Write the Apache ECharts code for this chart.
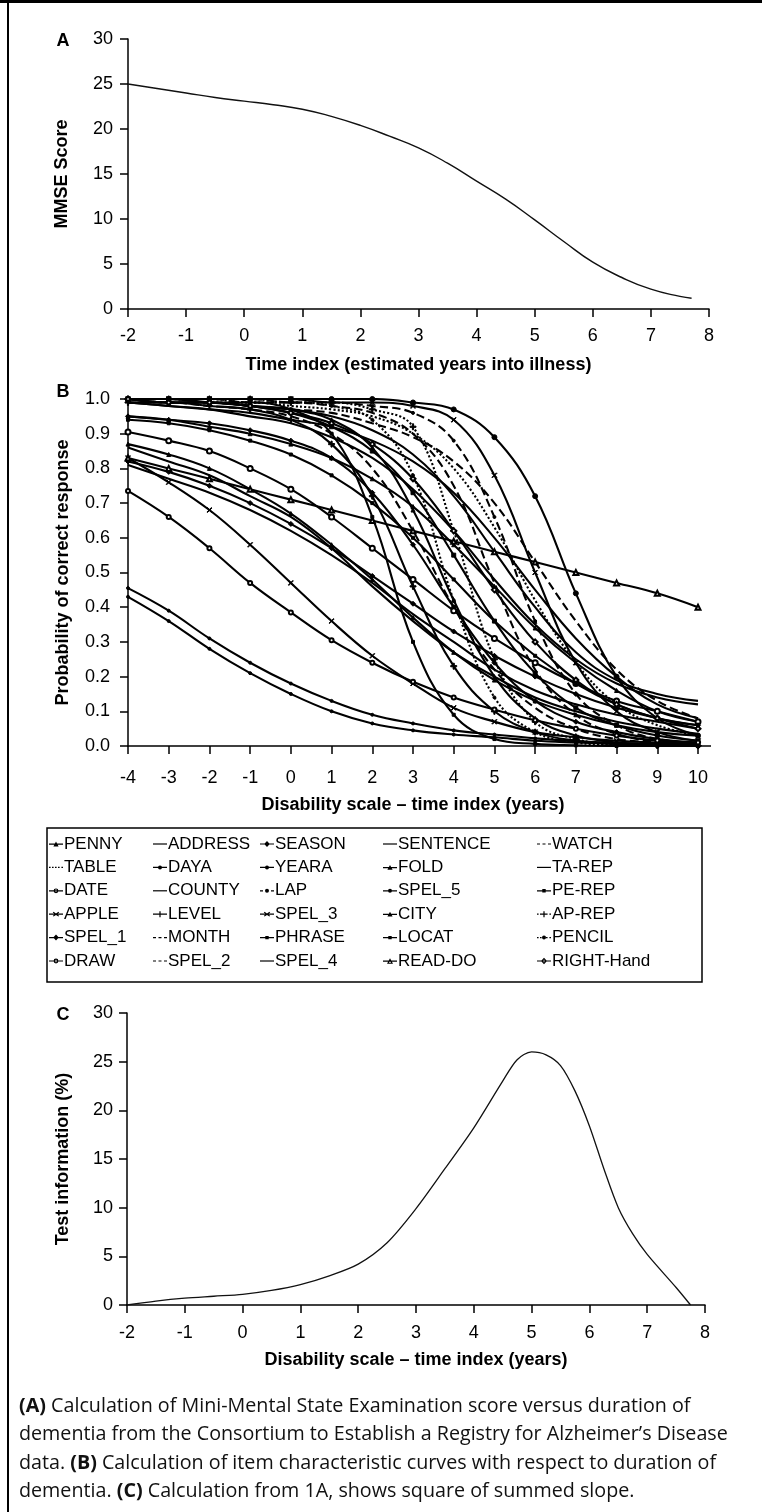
<!DOCTYPE html>
<html>
<head>
<meta charset="utf-8">
<script src="https://cdn.jsdelivr.net/npm/echarts@6.0.0/dist/echarts.min.js"></script>
<style>
  html, body { margin: 0; padding: 0; background: #fff; }
  #chart { width: 762px; height: 1512px; }
</style>
</head>
<body>
<div id="chart"></div>
<script>
// ---- panel A: MMSE score ----
const timeA = [-2, -1.5, -1, -0.5, 0, 0.5, 1, 1.5, 2, 2.5, 3, 3.5, 4, 4.5, 5, 5.5, 6, 6.5, 7, 7.5, 7.7]
const mmse = [25.0, 24.5, 24.0, 23.5, 23.1, 22.7, 22.2, 21.4, 20.4, 19.2, 17.9, 16.2, 14.2, 12.2, 9.9, 7.5, 5.2, 3.5, 2.2, 1.4, 1.2]

// ---- panel B: item characteristic curves (value at each year) ----
const yearsB = [-4, -3, -2, -1, 0, 1, 2, 3, 4, 5, 6, 7, 8, 9, 10]
const penny = [1.0, 0.99, 0.99, 0.98, 0.97, 0.94, 0.86, 0.68, 0.42, 0.2, 0.08, 0.03, 0.01, 0.004, 0.002]
const address = [1.0, 0.99, 0.99, 0.98, 0.97, 0.95, 0.91, 0.84, 0.72, 0.56, 0.4, 0.27, 0.19, 0.15, 0.13]
const season = [0.95, 0.94, 0.93, 0.91, 0.88, 0.83, 0.73, 0.58, 0.4, 0.24, 0.13, 0.07, 0.04, 0.02, 0.01]
const sentence = [0.99, 0.98, 0.97, 0.95, 0.93, 0.89, 0.83, 0.74, 0.62, 0.48, 0.35, 0.25, 0.18, 0.14, 0.12]
const watch = [1.0, 1.0, 1.0, 0.99, 0.99, 0.98, 0.96, 0.9, 0.75, 0.47, 0.22, 0.09, 0.035, 0.012, 0.005]
const table = [1.0, 1.0, 0.99, 0.99, 0.98, 0.97, 0.95, 0.9, 0.8, 0.63, 0.42, 0.24, 0.12, 0.06, 0.03]
const daya = [0.43, 0.36, 0.28, 0.21, 0.15, 0.1, 0.065, 0.045, 0.033, 0.025, 0.015, 0.01, 0.006, 0.003, 0.002]
const yeara = [1.0, 1.0, 1.0, 1.0, 1.0, 1.0, 1.0, 0.99, 0.97, 0.89, 0.72, 0.44, 0.2, 0.08, 0.03]
const fold = [0.95, 0.94, 0.92, 0.9, 0.87, 0.83, 0.77, 0.69, 0.58, 0.46, 0.34, 0.24, 0.16, 0.1, 0.07]
const taRep = [0.99, 0.98, 0.97, 0.96, 0.94, 0.92, 0.88, 0.82, 0.73, 0.6, 0.45, 0.31, 0.2, 0.12, 0.08]
const date = [0.905, 0.88, 0.85, 0.8, 0.74, 0.66, 0.57, 0.48, 0.39, 0.31, 0.24, 0.18, 0.13, 0.1, 0.07]
const county = [0.86, 0.82, 0.78, 0.72, 0.66, 0.57, 0.46, 0.36, 0.27, 0.2, 0.14, 0.1, 0.07, 0.05, 0.035]
const lap = [1.0, 1.0, 1.0, 1.0, 0.99, 0.99, 0.98, 0.96, 0.88, 0.66, 0.36, 0.15, 0.06, 0.02, 0.01]
const spel5 = [0.455, 0.39, 0.31, 0.24, 0.18, 0.13, 0.09, 0.065, 0.045, 0.033, 0.022, 0.014, 0.009, 0.006, 0.004]
const peRep = [1.0, 1.0, 0.99, 0.99, 0.97, 0.9, 0.66, 0.3, 0.09, 0.02, 0.006, 0.002, 0.0, 0.0, 0.0]
const apple = [0.83, 0.76, 0.68, 0.58, 0.47, 0.36, 0.26, 0.18, 0.11, 0.07, 0.04, 0.025, 0.015, 0.01, 0.006]
const level = [0.99, 0.99, 0.98, 0.97, 0.94, 0.87, 0.72, 0.46, 0.23, 0.1, 0.04, 0.015, 0.006, 0.002, 0.001]
const spel3 = [1.0, 1.0, 1.0, 1.0, 1.0, 0.99, 0.99, 0.98, 0.94, 0.78, 0.5, 0.24, 0.1, 0.04, 0.015]
const city = [0.87, 0.84, 0.8, 0.74, 0.67, 0.58, 0.48, 0.37, 0.27, 0.19, 0.13, 0.09, 0.06, 0.04, 0.03]
const apRep = [1.0, 1.0, 1.0, 1.0, 0.99, 0.99, 0.97, 0.92, 0.62, 0.25, 0.07, 0.02, 0.005, 0.002, 0.001]
const spel1 = [0.82, 0.79, 0.75, 0.7, 0.64, 0.57, 0.49, 0.41, 0.33, 0.26, 0.2, 0.15, 0.11, 0.08, 0.06]
const month = [0.99, 0.99, 0.98, 0.97, 0.95, 0.9, 0.8, 0.62, 0.4, 0.22, 0.11, 0.05, 0.02, 0.01, 0.005]
const phrase = [0.94, 0.93, 0.91, 0.88, 0.84, 0.78, 0.7, 0.6, 0.48, 0.36, 0.26, 0.18, 0.12, 0.08, 0.06]
const locat = [1.0, 1.0, 0.99, 0.98, 0.96, 0.92, 0.85, 0.73, 0.55, 0.36, 0.21, 0.11, 0.06, 0.03, 0.015]
const pencil = [1.0, 1.0, 1.0, 0.99, 0.99, 0.98, 0.94, 0.78, 0.42, 0.14, 0.04, 0.01, 0.003, 0.001, 0.0]
const draw = [0.735, 0.66, 0.57, 0.47, 0.385, 0.305, 0.24, 0.185, 0.14, 0.105, 0.074, 0.05, 0.03, 0.016, 0.01]
const spel2 = [1.0, 0.99, 0.99, 0.98, 0.97, 0.96, 0.93, 0.89, 0.82, 0.7, 0.53, 0.36, 0.22, 0.13, 0.08]
const spel4 = [0.81, 0.77, 0.73, 0.68, 0.62, 0.55, 0.47, 0.38, 0.3, 0.22, 0.16, 0.12, 0.09, 0.07, 0.05]
const readDo = [0.83, 0.8, 0.77, 0.74, 0.71, 0.68, 0.65, 0.62, 0.59, 0.56, 0.53, 0.5, 0.47, 0.44, 0.4]
const rightHand = [1.0, 0.99, 0.99, 0.98, 0.96, 0.93, 0.87, 0.77, 0.62, 0.45, 0.3, 0.19, 0.12, 0.08, 0.05]

// legend order, row by row as in the box
const itemNames = [
  'PENNY', 'ADDRESS', 'SEASON', 'SENTENCE', 'WATCH',
  'TABLE', 'DAYA', 'YEARA', 'FOLD', 'TA-REP',
  'DATE', 'COUNTY', 'LAP', 'SPEL_5', 'PE-REP',
  'APPLE', 'LEVEL', 'SPEL_3', 'CITY', 'AP-REP',
  'SPEL_1', 'MONTH', 'PHRASE', 'LOCAT', 'PENCIL',
  'DRAW', 'SPEL_2', 'SPEL_4', 'READ-DO', 'RIGHT-Hand'
]
const itemValues = [
  penny, address, season, sentence, watch,
  table, daya, yeara, fold, taRep,
  date, county, lap, spel5, peRep,
  apple, level, spel3, city, apRep,
  spel1, month, phrase, locat, pencil,
  draw, spel2, spel4, readDo, rightHand
]

// ---- panel C: test information ----
const timeC = [-2, -1.5, -1, -0.5, 0, 0.5, 1, 1.5, 2, 2.5, 3, 3.5, 4, 4.5, 4.75, 5, 5.25, 5.5, 5.75, 6, 6.25, 6.5, 6.75, 7, 7.5, 7.75]
const testInfo = [0, 0.4, 0.7, 0.9, 1.1, 1.5, 2.1, 3.0, 4.2, 6.4, 9.9, 14.0, 18.2, 23.0, 25.2, 26.0, 25.7, 24.6, 22.0, 18.4, 14.0, 10.0, 7.3, 5.2, 1.8, 0]

// marker shapes (plot) and small legend glyphs (line + marker, 14 wide)
const PLUS = 'path://M4,0H6V4H10V6H6V10H4V6H0V4H4Z'
const CROSS = 'path://M1,0L5,4L9,0L10,1L6,5L10,9L9,10L5,6L1,10L0,9L4,5L0,1Z'
const LINE = 'M0,3.4H14V4.6H0Z'
const DASH = 'M0,3.4H3V4.6H0Z M5.5,3.4H8.5V4.6H5.5Z M11,3.4H14V4.6H11Z'
const DOTS = 'M0,3.4H1.6V4.6H0Z M3,3.4H4.6V4.6H3Z M6,3.4H7.6V4.6H6Z M9,3.4H10.6V4.6H9Z M12.4,3.4H14V4.6H12.4Z'
const glyph = {
  none: '',
  circle: 'M5,4A2,2,0,1,1,9,4A2,2,0,1,1,5,4Z',
  emptyCircle: 'M4.6,4A2.4,2.4,0,1,1,9.4,4A2.4,2.4,0,1,1,4.6,4Z M5.8,4A1.2,1.2,0,1,0,8.2,4A1.2,1.2,0,1,0,5.8,4Z',
  triangle: 'M7,1.4L9.6,6.2H4.4Z',
  emptyTriangle: 'M7,1L10,6.6H4Z M7,3.4L5.9,5.6H8.1Z',
  diamond: 'M7,1L9.8,4L7,7L4.2,4Z',
  emptyDiamond: 'M7,0.8L10,4L7,7.2L4,4Z M7,2.6L5.7,4L7,5.4L8.3,4Z',
  rect: 'M5.3,2.3H8.7V5.7H5.3Z',
  plus: 'M6.4,1H7.6V3.4H10V4.6H7.6V7H6.4V4.6H4V3.4H6.4Z',
  cross: 'M4.6,1.6L7,3.2L9.4,1.6L10.2,2.4L7.8,4L10.2,5.6L9.4,6.4L7,4.8L4.6,6.4L3.8,5.6L6.2,4L3.8,2.4Z',
}
const looks = {
  PENNY: ['triangle', 4], ADDRESS: ['none', 0], SEASON: ['diamond', 5], SENTENCE: ['none', 0], WATCH: ['none', 0, 'dashed'],
  TABLE: ['none', 0, 'dotted'], DAYA: ['circle', 3], YEARA: ['circle', 5], FOLD: ['triangle', 4], 'TA-REP': ['none', 0],
  DATE: ['emptyCircle', 5], COUNTY: ['none', 0], LAP: ['circle', 3, 'dashed'], SPEL_5: ['circle', 3], 'PE-REP': ['rect', 3],
  APPLE: ['cross', 5], LEVEL: ['plus', 6], SPEL_3: ['cross', 5], CITY: ['triangle', 4], 'AP-REP': ['plus', 6, 'dotted'],
  SPEL_1: ['diamond', 5], MONTH: ['none', 0, 'dashed'], PHRASE: ['rect', 3], LOCAT: ['rect', 4], PENCIL: ['circle', 3, 'dotted'],
  DRAW: ['emptyCircle', 4], SPEL_2: ['none', 0, 'dashed'], SPEL_4: ['none', 0], 'READ-DO': ['emptyTriangle', 5], 'RIGHT-Hand': ['emptyDiamond', 5]
}
function plotSymbol(s) {
  if (s === 'plus') return PLUS
  if (s === 'cross') return CROSS
  return s
}
function legendIcon(look) {
  const base = look[2] === 'dashed' ? DASH : look[2] === 'dotted' ? DOTS : LINE
  return 'path://' + base + ' ' + glyph[look[0]]
}

const font = 'Liberation Sans'
function axisStyle(extra) {
  return Object.assign({
    axisLine: { onZero: false, lineStyle: { color: '#000', width: 1.5 } },
    axisTick: { length: 8, lineStyle: { color: '#000', width: 1.5 } },
    splitLine: { show: false },
    nameLocation: 'middle',
    nameTextStyle: { color: '#000', fontFamily: font, fontWeight: 'bold', fontSize: 18 },
  }, extra)
}
function labelStyle(margin, fmt) {
  return { color: '#000', fontFamily: font, fontSize: 18, margin: margin, formatter: fmt }
}

const seriesB = itemNames.map((name, i) => {
  const look = looks[name]
  return {
    name: name,
    type: 'line',
    xAxisIndex: 1,
    yAxisIndex: 1,
    smooth: 0.4,
    symbol: plotSymbol(look[0]),
    symbolSize: look[1],
    showSymbol: look[0] !== 'none',
    lineStyle: { color: '#000', width: 2.1, type: look[2] || 'solid' },
    itemStyle: { color: '#000', borderColor: '#000' },
    emphasis: { disabled: true },
    data: yearsB.map((x, k) => [x, itemValues[i][k]]),
  }
})

// five legend columns, six rows each
const colLeft = [49, 153, 260, 383, 537]
const legends = colLeft.map((left, c) => ({
  orient: 'vertical',
  left: left,
  top: 834,
  padding: 0,
  itemGap: 3.4,
  itemWidth: 14,
  itemHeight: 8,
  symbolKeepAspect: true,
  selectedMode: false,
  textStyle: { color: '#000', fontFamily: font, fontSize: 17, lineHeight: 20, padding: [0, 0, 0, -4] },
  data: itemNames.filter((n, i) => i % 5 === c).map((n) => ({ name: n, icon: legendIcon(looks[n]) })),
}))

const caption =
  '{b|(A)} Calculation of Mini-Mental State Examination score versus duration of\n' +
  'dementia from the Consortium to Establish a Registry for Alzheimer\u2019s Disease\n' +
  'data. {b|(B)} Calculation of item characteristic curves with respect to duration of\n' +
  'dementia. {b|(C)} Calculation from 1A, shows square of summed slope.'

const chart = echarts.init(document.getElementById('chart'))
chart.setOption({
  backgroundColor: '#fff',
  animation: false,
  grid: [
    { left: 128, top: 39, width: 581, height: 270, outerBoundsMode: 'none' },
    { left: 128, top: 399, width: 570, height: 347, outerBoundsMode: 'none' },
    { left: 127, top: 1013, width: 578, height: 292, outerBoundsMode: 'none' },
  ],
  xAxis: [
    axisStyle({ gridIndex: 0, type: 'value', min: -2, max: 8, interval: 1, name: 'Time index (estimated years into illness)', nameGap: 47, axisLabel: labelStyle(18) }),
    axisStyle({ gridIndex: 1, type: 'value', min: -4, max: 10, interval: 1, name: 'Disability scale \u2013 time index (years)', nameGap: 50, axisLabel: labelStyle(23) }),
    axisStyle({ gridIndex: 2, type: 'value', min: -2, max: 8, interval: 1, name: 'Disability scale \u2013 time index (years)', nameGap: 46, axisLabel: labelStyle(19) }),
  ],
  yAxis: [
    axisStyle({ gridIndex: 0, type: 'value', min: 0, max: 30, interval: 5, name: 'MMSE Score', nameGap: 57, axisLabel: labelStyle(15) }),
    axisStyle({ gridIndex: 1, type: 'value', min: 0, max: 1, interval: 0.1, name: 'Probability of correct response', nameGap: 56, axisLabel: labelStyle(18, (v) => v.toFixed(1)) }),
    axisStyle({ gridIndex: 2, type: 'value', min: 0, max: 30, interval: 5, name: 'Test information (%)', nameGap: 55, axisLabel: labelStyle(14) }),
  ],
  legend: legends,
  series: [
    {
      type: 'line', xAxisIndex: 0, yAxisIndex: 0, smooth: true, showSymbol: false,
      lineStyle: { color: '#111', width: 1.4 },
      data: timeA.map((x, i) => [x, mmse[i]]),
    },
    ...seriesB,
    {
      type: 'line', xAxisIndex: 2, yAxisIndex: 2, smooth: 0.3, showSymbol: false,
      lineStyle: { color: '#111', width: 1.3 },
      data: timeC.map((x, i) => [x, testInfo[i]]),
    },
  ],
  graphic: [
    { type: 'rect', shape: { x: 0, y: 0, width: 762, height: 3 }, style: { fill: '#000' } },
    { type: 'rect', shape: { x: 7, y: 0, width: 2, height: 1512 }, style: { fill: '#000' } },
    // panel B axis line runs a little past the last tick
    { type: 'line', shape: { x1: 698, y1: 746, x2: 711, y2: 746 }, style: { stroke: '#000', lineWidth: 1.5 } },
    { type: 'rect', shape: { x: 47, y: 828, width: 655, height: 154 }, style: { fill: 'none', stroke: '#000', lineWidth: 1.5 } },
    { type: 'text', x: 63, y: 41, style: { text: 'A', font: 'bold 18px "Liberation Sans"', fill: '#000', align: 'center', verticalAlign: 'middle' } },
    { type: 'text', x: 63, y: 392, style: { text: 'B', font: 'bold 18px "Liberation Sans"', fill: '#000', align: 'center', verticalAlign: 'middle' } },
    { type: 'text', x: 63, y: 1015, style: { text: 'C', font: 'bold 18px "Liberation Sans"', fill: '#000', align: 'center', verticalAlign: 'middle' } },
    {
      type: 'text', x: 19, y: 1392, scaleX: 0.985,
      style: {
        text: caption,
        fontFamily: 'Open Sans', fontSize: 20, lineHeight: 28.5, fill: '#111',
        rich: { b: { fontFamily: 'Open Sans', fontSize: 20, fontWeight: 'bold', lineHeight: 28.5 } },
      },
    },
  ],
})
</script>
</body>
</html>
